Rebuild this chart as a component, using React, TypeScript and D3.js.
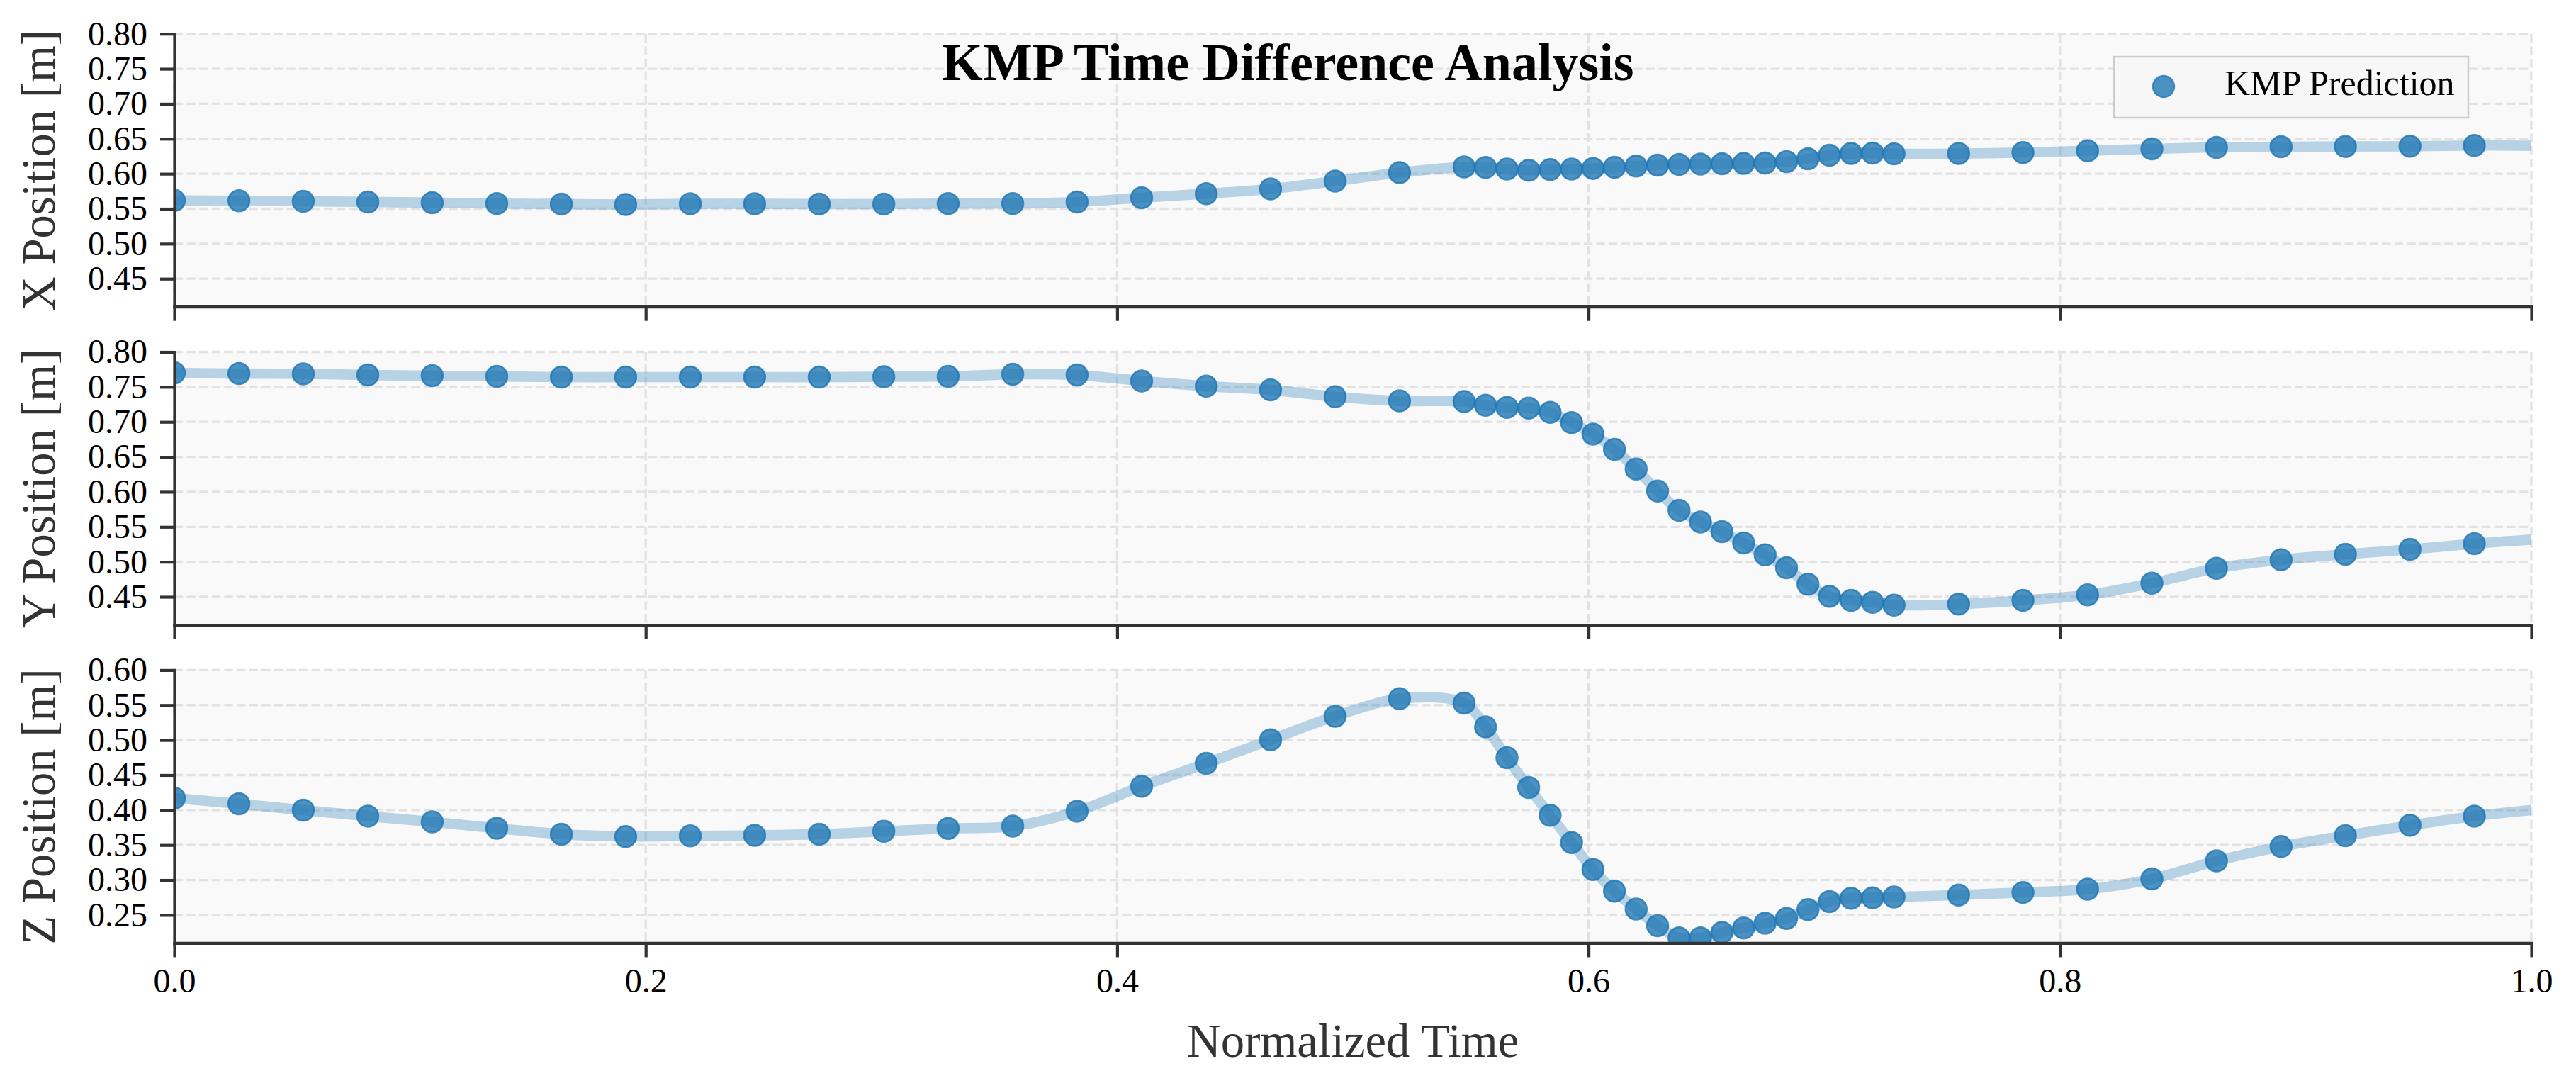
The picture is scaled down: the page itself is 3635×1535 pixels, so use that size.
import { useEffect, useRef } from "react";
import * as d3 from "d3";

// normalized time of every KMP sample (denser around the fast part of the motion)
const time = [
  0, 0.0274, 0.0547, 0.0821, 0.1094, 0.1368, 0.1642, 0.1915, 0.2189, 0.2462,
  0.2736, 0.301, 0.3283, 0.3557, 0.383, 0.4104, 0.4378, 0.4651, 0.4925, 0.5198,
  0.5472, 0.5563, 0.5654, 0.5746, 0.5837, 0.5928, 0.6019, 0.611, 0.6202, 0.6293,
  0.6384, 0.6475, 0.6566, 0.6658, 0.6749, 0.684, 0.6931, 0.7022, 0.7114, 0.7205,
  0.7296, 0.757, 0.7843, 0.8117, 0.839, 0.8664, 0.8938, 0.9211, 0.9485, 0.9758,
];

const posX = [
  0.562, 0.5614, 0.5607, 0.5597, 0.5587, 0.5574, 0.5567, 0.556, 0.557, 0.557,
  0.5567, 0.5567, 0.5574, 0.5574, 0.5597, 0.5658, 0.5715, 0.5783, 0.5894, 0.6016,
  0.6097, 0.609, 0.6066, 0.605, 0.606, 0.6066, 0.6076, 0.6093, 0.611, 0.6123,
  0.6134, 0.6137, 0.6144, 0.6147, 0.6154, 0.6174, 0.6215, 0.6265, 0.6289, 0.6296,
  0.6285, 0.6289, 0.6302, 0.6329, 0.6356, 0.6377, 0.6387, 0.639, 0.6393, 0.6404,
];

const posY = [
  0.77, 0.769, 0.7686, 0.767, 0.766, 0.765, 0.764, 0.764, 0.764, 0.764,
  0.764, 0.7646, 0.765, 0.768, 0.767, 0.7585, 0.751, 0.7457, 0.736, 0.73,
  0.729, 0.7237, 0.7207, 0.7197, 0.7136, 0.699, 0.6826, 0.6606, 0.6326, 0.6012,
  0.5735, 0.557, 0.5432, 0.527, 0.51, 0.4915, 0.4679, 0.4507, 0.445, 0.4422,
  0.4382, 0.4396, 0.445, 0.4527, 0.4696, 0.4909, 0.503, 0.5107, 0.5178, 0.526,
];

const posZ = [
  0.4171, 0.4089, 0.3999, 0.3913, 0.3831, 0.3741, 0.3655, 0.3622, 0.363, 0.3638,
  0.3655, 0.3696, 0.3737, 0.377, 0.3983, 0.434, 0.4667, 0.5004, 0.534, 0.559,
  0.5529, 0.5188, 0.4749, 0.4323, 0.3925, 0.3535, 0.315, 0.284, 0.2585, 0.2348,
  0.2172, 0.2172, 0.225, 0.2314, 0.2382, 0.2452, 0.2577, 0.2692, 0.274, 0.2746,
  0.2757, 0.2786, 0.2822, 0.2868, 0.3015, 0.3273, 0.3478, 0.3634, 0.3782, 0.3913,
];

// the predicted curve keeps going to the end of the time axis
const tailTime = 1.0;
const tailX = 0.64;
const tailY = 0.5317;
const tailZ = 0.4;

const xTicks = [0, 0.2, 0.4, 0.6, 0.8, 1.0];
const yTicksXY = [0.45, 0.5, 0.55, 0.6, 0.65, 0.7, 0.75, 0.8];
const yTicksZ = [0.25, 0.3, 0.35, 0.4, 0.45, 0.5, 0.55, 0.6];

const panels = [
  { label: "X Position [m]", values: posX, tail: tailX, domain: [0.41, 0.8], ticks: yTicksXY },
  { label: "Y Position [m]", values: posY, tail: tailY, domain: [0.41, 0.8], ticks: yTicksXY },
  { label: "Z Position [m]", values: posZ, tail: tailZ, domain: [0.21, 0.6], ticks: yTicksZ },
];

const title = "KMP Time Difference Analysis";
const xLabel = "Normalized Time";
const legendLabel = "KMP Prediction";

function drawChart(svgEl) {
  const width = 3635;
  const height = 1535;
  const marginLeft = 246;
  const marginRight = 63;
  const panelTop = [47.7, 496.5, 945.4];
  const panelHeight = 385;
  const font = "'Liberation Serif', 'Times New Roman', Times, serif";
  const blue = "#1f77b4";
  const gridColor = "#e2e2e2";
  const spineColor = "#333333";

  const svg = d3.select(svgEl);
  svg.selectAll("*").remove();
  svg
    .attr("width", width)
    .attr("height", height)
    .attr("viewBox", [0, 0, width, height])
    .style("display", "block")
    .style("background", "white");

  const xScale = d3.scaleLinear([0, 1], [marginLeft, width - marginRight]);

  panels.forEach((p, k) => {
    const top = panelTop[k];
    const bottom = top + panelHeight;
    const yScale = d3.scaleLinear(p.domain, [bottom, top]);
    const g = svg.append("g");
    const clipId = `panel-clip-${k}`;

    g.append("clipPath")
      .attr("id", clipId)
      .append("rect")
      .attr("x", marginLeft)
      .attr("y", top)
      .attr("width", width - marginRight - marginLeft)
      .attr("height", panelHeight);

    // axes face
    g.append("rect")
      .attr("x", marginLeft)
      .attr("y", top)
      .attr("width", width - marginRight - marginLeft)
      .attr("height", panelHeight)
      .attr("fill", "#f9f9f9");

    // dashed grid
    g.append("g")
      .selectAll("line")
      .data(p.ticks)
      .join("line")
      .attr("x1", marginLeft)
      .attr("x2", width - marginRight)
      .attr("y1", (d) => yScale(d))
      .attr("y2", (d) => yScale(d))
      .attr("stroke", gridColor)
      .attr("stroke-width", 3.3)
      .attr("stroke-dasharray", "12.3,5.3");

    g.append("g")
      .selectAll("line")
      .data(xTicks)
      .join("line")
      .attr("x1", (d) => xScale(d))
      .attr("x2", (d) => xScale(d))
      .attr("y1", top)
      .attr("y2", bottom)
      .attr("stroke", gridColor)
      .attr("stroke-width", 3.3)
      .attr("stroke-dasharray", "12.3,5.3");

    // smooth prediction curve
    const lineT = [...time, tailTime];
    const lineV = [...p.values, p.tail];
    const line = d3
      .line()
      .x((i) => xScale(lineT[i]))
      .y((i) => yScale(lineV[i]))
      .curve(d3.curveCatmullRom.alpha(0.5));

    g.append("path")
      .attr("clip-path", `url(#${clipId})`)
      .attr("d", line(d3.range(lineT.length)))
      .attr("fill", "none")
      .attr("stroke", blue)
      .attr("stroke-opacity", 0.3)
      .attr("stroke-width", 14.6)
      .attr("stroke-linejoin", "round");

    // sample points
    g.append("g")
      .attr("clip-path", `url(#${clipId})`)
      .selectAll("circle")
      .data(time)
      .join("circle")
      .attr("cx", (t) => xScale(t))
      .attr("cy", (t, i) => yScale(p.values[i]))
      .attr("r", 15)
      .attr("fill", blue)
      .attr("fill-opacity", 0.8)
      .attr("stroke", blue)
      .attr("stroke-opacity", 0.8)
      .attr("stroke-width", 2.5);

    const styleAxis = (ax) => {
      ax.attr("font-family", null).attr("font-size", null).attr("color", spineColor);
      ax.select(".domain").attr("stroke-width", 4.2).attr("stroke-linecap", "square");
      ax.selectAll(".tick line").attr("stroke-width", 4.2);
      ax.selectAll(".tick text")
        .attr("font-family", font)
        .attr("font-size", 48)
        .attr("fill", "#000");
    };

    const yAxis = d3
      .axisLeft(yScale)
      .tickValues(p.ticks)
      .tickFormat(d3.format(".2f"))
      .tickSize(20)
      .tickSizeOuter(0)
      .tickPadding(18);

    const xAxis = d3
      .axisBottom(xScale)
      .tickValues(xTicks)
      .tickFormat(k === panels.length - 1 ? d3.format(".1f") : () => "")
      .tickSize(20)
      .tickSizeOuter(0)
      .tickPadding(16);

    g.append("g").attr("transform", `translate(${marginLeft},0)`).call(yAxis).call(styleAxis);
    g.append("g").attr("transform", `translate(0,${bottom})`).call(xAxis).call(styleAxis);

    g.append("text")
      .attr("transform", `translate(77,${(top + bottom) / 2}) rotate(-90)`)
      .attr("text-anchor", "middle")
      .attr("font-family", font)
      .attr("font-size", 66.7)
      .attr("fill", spineColor)
      .text(p.label);

    if (k === 0) {
      // legend, upper right
      const lx = width - marginRight - 589;
      const ly = top + 32.3;
      const lg = g.append("g").attr("transform", `translate(${lx},${ly})`);
      lg.append("rect")
        .attr("width", 500)
        .attr("height", 86)
        .attr("fill", "#f7f7f7")
        .attr("stroke", "#cccccc")
        .attr("stroke-width", 2.5);
      lg.append("circle")
        .attr("cx", 70)
        .attr("cy", 42)
        .attr("r", 15)
        .attr("fill", blue)
        .attr("fill-opacity", 0.8)
        .attr("stroke", blue)
        .attr("stroke-opacity", 0.8)
        .attr("stroke-width", 2.5);
      lg.append("text")
        .attr("x", 156)
        .attr("y", 54)
        .attr("font-family", font)
        .attr("font-size", 50)
        .attr("fill", "#000")
        .text(legendLabel);
    }
  });

  svg.append("text")
    .attr("x", (marginLeft + width - marginRight) / 2)
    .attr("y", 1491)
    .attr("text-anchor", "middle")
    .attr("font-family", font)
    .attr("font-size", 66.7)
    .attr("fill", spineColor)
    .text(xLabel);

  svg.append("text")
    .attr("x", width / 2)
    .attr("y", 113)
    .attr("text-anchor", "middle")
    .attr("font-family", font)
    .attr("font-size", 74)
    .attr("font-weight", "bold")
    .attr("fill", "#000")
    .text(title);
}

export default function App() {
  const svgRef = useRef(null);

  useEffect(() => {
    document.body.style.margin = "0";
    drawChart(svgRef.current);
  }, []);

  return <svg ref={svgRef} />;
}
